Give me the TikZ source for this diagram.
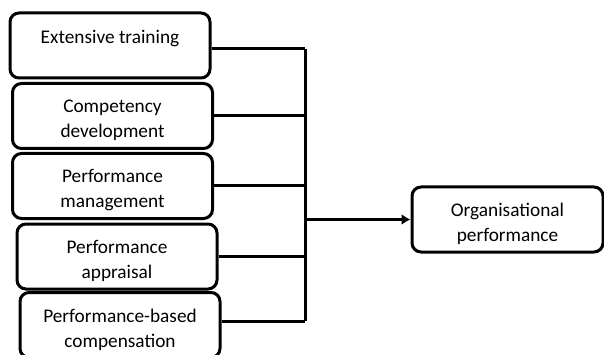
\documentclass[tikz,border=0pt]{standalone}
\usepackage{fontspec}
\setmainfont{Carlito}
\usetikzlibrary{arrows.meta}

\begin{document}
\begin{tikzpicture}[
            x=1pt, y=-1pt,
            line width=3pt,
            hrbox/.style={draw, rounded corners=9pt, minimum width=200pt, minimum height=65pt, inner sep=0pt},
            hrtext/.style={font=\fontsize{19.3}{25}\selectfont, align=center, inner sep=0pt},
            % outbox/.style = {hrbox, minimum width=191pt},
            ]
            \useasboundingbox (0,0) rectangle (604,355);
            % practices
            \node[hrbox] (train) at (110, 45.5) {};
            \node[hrtext] (train-t) at ([yshift=-4pt]train) {Extensive training\\\mbox{}};
            \node[hrbox] (comp) at (112.5, 116) {};
            \node[hrtext] (comp-t) at ([yshift=-4pt]comp) {Competency\\development};
            \node[hrbox] (mgmt) at (112.5, 186) {};
            \node[hrtext] (mgmt-t) at ([yshift=-4pt]mgmt) {Performance\\management};
            \node[hrbox] (appr) at (117, 256.5) {};
            \node[hrtext] (appr-t) at ([yshift=-4pt]appr) {Performance\\appraisal};
            \node[hrbox] (pay) at (120, 325) {};
            \node[hrtext] (pay-t) at ([yshift=-5pt]pay) {Performance-based\\compensation};
            % outcome
            \node[hrbox, minimum width=191pt] (perf) at (507.5, 219.5) {};
            \node[hrtext] (perf-t) at ([yshift=-4pt]perf) {Organisational\\performance};
            % bus
            \coordinate (bustop) at (305, 49);
            \coordinate (busbot) at (305, 321);
            \draw (bustop) -- (busbot);
            \draw ([yshift=-3.5pt]train.east) -- ([yshift=-3.5pt]train.east -| bustop);
            \draw (comp.east) -- (comp.east -| bustop);
            \draw (mgmt.east) -- (mgmt.east -| bustop);
            \draw (appr.east) -- (appr.east -| bustop);
            \draw ([yshift=4pt]pay.east) -- ([yshift=4pt]pay.east -| bustop);
            \draw[-{Latex[length=9pt,width=11pt]}] (perf.west -| bustop) -- (perf.west);
        \end{tikzpicture}
\end{document}
